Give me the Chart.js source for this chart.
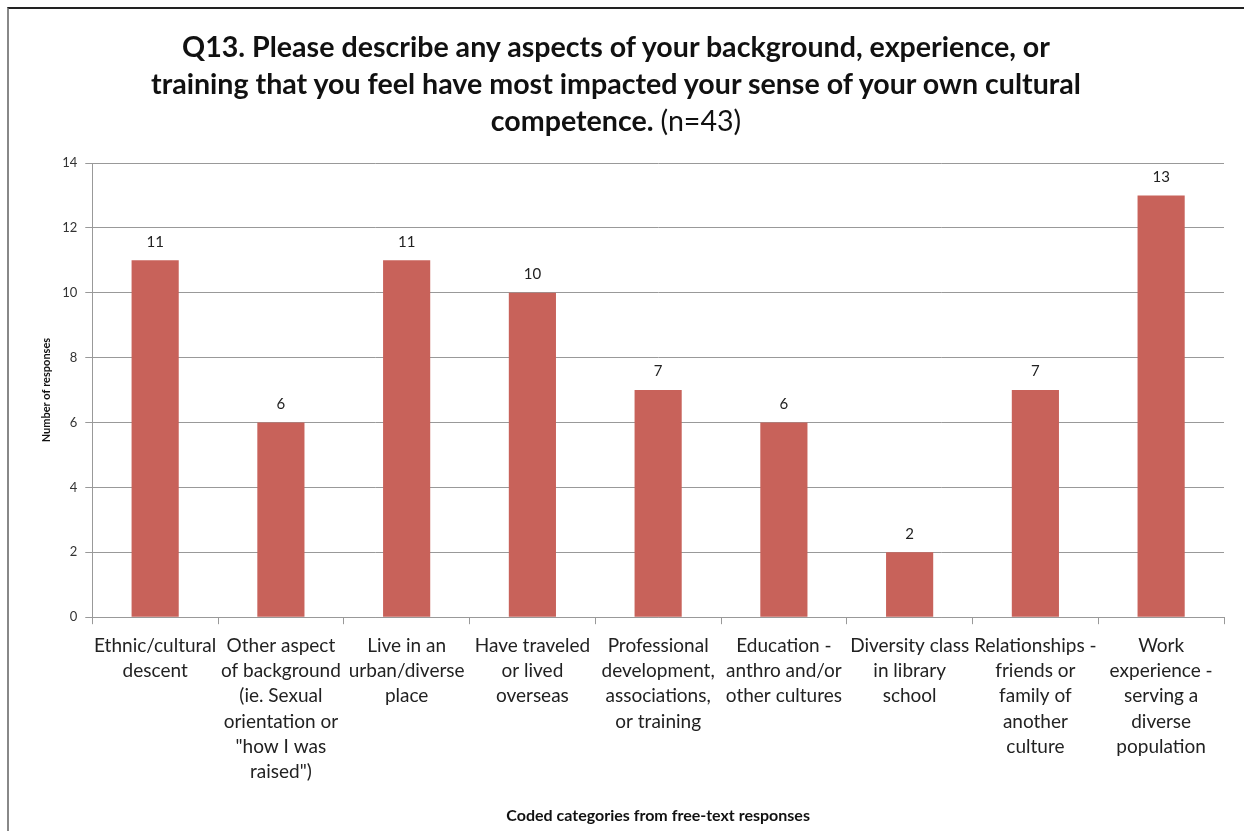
<!DOCTYPE html>
<html>
<head>
<meta charset="utf-8">
<script src="https://cdn.jsdelivr.net/npm/chart.js@4"></script>
<style>
  html, body { margin: 0; padding: 0; background: #fff; }
  #wrap { position: relative; width: 1244px; height: 831px; overflow: hidden; }
  #frame {
    position: absolute; left: 7px; top: 7px; right: -4px; bottom: -4px;
    border-top: 2px solid #222; border-left: 2px solid #888;
  }
  #title {
    position: absolute; left: 8px; top: 28px; width: 1216px;
    text-align: center; font-family: Lato, "Open Sans", sans-serif;
    font-size: 28.6px; line-height: 37px; color: #111; font-weight: bold;
  }
  #title span { font-weight: normal; }
  canvas { position: absolute; left: 0; top: 0; }
</style>
</head>
<body>
<div id="wrap">
  <div id="frame"></div>
  <canvas id="chartQ13" width="1244" height="831"></canvas>
  <div id="title">Q13. Please describe any aspects of your background, experience, or<br>training that you feel have most impacted your sense of your own cultural<br>competence. <span>(n=43)</span></div>
</div>
<script>
// категории (переносы строк как на подписях оси)
const categories = [
  ["Ethnic/cultural", "descent"],
  ["Other aspect", "of background", "(ie. Sexual", "orientation or", "\"how I was", "raised\")"],
  ["Live in an", "urban/diverse", "place"],
  ["Have traveled", "or lived", "overseas"],
  ["Professional", "development,", "associations,", "or training"],
  ["Education -", "anthro and/or", "other cultures"],
  ["Diversity class", "in library", "school"],
  ["Relationships -", "friends or", "family of", "another", "culture"],
  ["Work", "experience -", "serving a", "diverse", "population"]
];
const responses = [11, 6, 11, 10, 7, 6, 2, 7, 13];
const yTicks = [0, 2, 4, 6, 8, 10, 12, 14];

const FONT = 'Lato, "Open Sans", sans-serif';
const GRID = '#999';

// подписи значений над столбцами
const valueLabels = {
  id: 'valueLabels',
  afterDatasetsDraw(chart) {
    const ctx = chart.ctx;
    const meta = chart.getDatasetMeta(0);
    ctx.save();
    ctx.font = '15px ' + FONT;
    ctx.fillStyle = '#222';
    ctx.textAlign = 'center';
    ctx.textBaseline = 'bottom';
    meta.data.forEach((bar, i) => {
      ctx.fillText(String(chart.data.datasets[0].data[i]), bar.x, bar.y - 11);
    });
    ctx.restore();
  }
};

let chart = new Chart(document.getElementById('chartQ13').getContext('2d'), {
  type: 'bar',
  data: {
    labels: categories,
    datasets: [{
      data: responses,
      backgroundColor: '#c8625a',
      categoryPercentage: 1,
      barPercentage: 0.375
    }]
  },
  options: {
    responsive: false,
    animation: false,
    layout: { padding: { top: 163, left: 40, right: 20, bottom: 6 } },
    plugins: { legend: { display: false }, tooltip: { enabled: false }, title: { display: false } },
    scales: {
      x: {
        grid: { display: true, drawOnChartArea: false, drawTicks: true, tickLength: 7, color: GRID, offset: true },
        border: { display: true, color: GRID },
        ticks: { font: { family: FONT, size: 19, lineHeight: 1.33 }, color: '#222', padding: 9, maxRotation: 0, autoSkip: false },
        title: { display: true, text: 'Coded categories from free-text responses', font: { family: FONT, size: 16, weight: 'bold' }, color: '#111', padding: { top: 12, bottom: 0 } }
      },
      y: {
        min: 0, max: 14,
        afterBuildTicks(scale) { scale.ticks = yTicks.map(v => ({ value: v })); },
        grid: { color: GRID, tickLength: 7 },
        border: { display: true, color: GRID },
        ticks: { font: { family: FONT, size: 13 }, color: '#333', padding: 8 },
        title: { display: true, text: 'Number of responses', font: { family: FONT, size: 11, weight: 'bold' }, color: '#111', padding: { top: 0, bottom: 1 } }
      }
    }
  },
  plugins: [valueLabels]
});
</script>
</body>
</html>
